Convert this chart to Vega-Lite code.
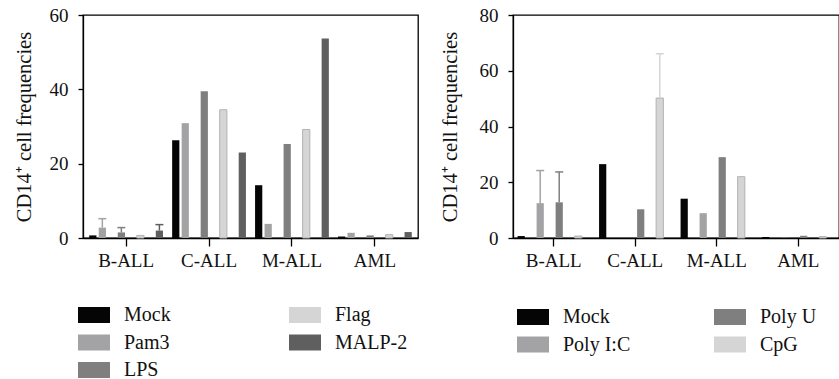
{
  "$schema": "https://vega.github.io/schema/vega-lite/v6.json",
  "padding": {"left": 13, "top": 5, "right": 0, "bottom": 0},
  "background": "white",
  "spacing": 20,
  "config": {
    "font": "Liberation Serif",
    "view": {"stroke": "#000", "strokeWidth": 1.3},
    "axis": {
      "labelFont": "Liberation Serif", "titleFont": "Liberation Serif",
      "labelFontSize": 19, "titleFontSize": 20.5, "titleFontWeight": "normal",
      "labelColor": "#111", "titleColor": "#111",
      "domainColor": "#000", "tickColor": "#000", "domainWidth": 1.3, "tickWidth": 1.3, "grid": false
    },
    "legend": {
      "labelFont": "Liberation Serif", "labelFontSize": 20, "labelColor": "#111",
      "symbolType": "M-2,-1H2V1H-2Z", "symbolSize": 256, "symbolStrokeWidth": 0,
      "symbolOpacity": 1, "labelOffset": 20, "rowPadding": 7.5
    }
  },
  "datasets": {
    "tlr1": [
      {"group": "B-ALL", "treat": "Mock", "value": 0.7},
      {"group": "B-ALL", "treat": "Pam3", "value": 2.8, "err": 5.2},
      {"group": "B-ALL", "treat": "LPS", "value": 1.5, "err": 2.8},
      {"group": "B-ALL", "treat": "Flag", "value": 0.7},
      {"group": "B-ALL", "treat": "MALP-2", "value": 2.0, "err": 3.6},
      {"group": "C-ALL", "treat": "Mock", "value": 26.3},
      {"group": "C-ALL", "treat": "Pam3", "value": 30.9},
      {"group": "C-ALL", "treat": "LPS", "value": 39.5},
      {"group": "C-ALL", "treat": "Flag", "value": 34.5},
      {"group": "C-ALL", "treat": "MALP-2", "value": 23.0},
      {"group": "M-ALL", "treat": "Mock", "value": 14.2},
      {"group": "M-ALL", "treat": "Pam3", "value": 3.8},
      {"group": "M-ALL", "treat": "LPS", "value": 25.3},
      {"group": "M-ALL", "treat": "Flag", "value": 29.2},
      {"group": "M-ALL", "treat": "MALP-2", "value": 53.7},
      {"group": "AML", "treat": "Mock", "value": 0.4},
      {"group": "AML", "treat": "Pam3", "value": 1.4},
      {"group": "AML", "treat": "LPS", "value": 0.7},
      {"group": "AML", "treat": "Flag", "value": 0.9},
      {"group": "AML", "treat": "MALP-2", "value": 1.6}
    ],
    "tlr2": [
      {"group": "B-ALL", "treat": "Mock", "value": 0.7},
      {"group": "B-ALL", "treat": "Poly I:C", "value": 12.5, "err": 24.2},
      {"group": "B-ALL", "treat": "Poly U", "value": 12.8, "err": 23.7},
      {"group": "B-ALL", "treat": "CpG", "value": 0.7},
      {"group": "C-ALL", "treat": "Mock", "value": 26.5},
      {"group": "C-ALL", "treat": "Poly I:C", "value": 0},
      {"group": "C-ALL", "treat": "Poly U", "value": 10.3},
      {"group": "C-ALL", "treat": "CpG", "value": 50.2, "err": 66.1},
      {"group": "M-ALL", "treat": "Mock", "value": 14.1},
      {"group": "M-ALL", "treat": "Poly I:C", "value": 8.9},
      {"group": "M-ALL", "treat": "Poly U", "value": 29.0},
      {"group": "M-ALL", "treat": "CpG", "value": 22.0},
      {"group": "AML", "treat": "Mock", "value": 0.4},
      {"group": "AML", "treat": "Poly I:C", "value": 0.1},
      {"group": "AML", "treat": "Poly U", "value": 0.8},
      {"group": "AML", "treat": "CpG", "value": 0.5}
    ]
  },
  "resolve": {"scale": {"color": "independent"}, "legend": {"color": "independent"}},
  "hconcat": [
    {
      "width": 335,
      "height": 223,
      "data": {"name": "tlr1"},
      "encoding": {
        "x": {"field": "group", "type": "nominal", "sort": ["B-ALL", "C-ALL", "M-ALL", "AML"],
              "scale": {"paddingInner": 0, "paddingOuter": 0.02},
              "axis": {"title": null, "labelAngle": 0, "tickSize": 8, "labelPadding": 5}},
        "xOffset": {"field": "treat", "type": "nominal", "sort": ["Mock", "Pam3", "LPS", "Flag", "MALP-2"],
                    "scale": {"paddingInner": 0.24, "paddingOuter": 0.48}},
        "color": {"field": "treat", "type": "nominal",
                  "scale": {"domain": ["Mock", "Pam3", "LPS", "Flag", "MALP-2"],
                            "range": ["#050505", "#a3a3a5", "#7f7f7f", "#d5d5d5", "#5f5f5f"]},
                  "legend": {"title": null, "orient": "none", "legendX": 1, "legendY": 290, "columns": 2, "columnPadding": 118}}
      },
      "layer": [
        {"mark": {"type": "bar", "strokeWidth": 1},
         "encoding": {"y": {"field": "value", "type": "quantitative",
                            "scale": {"domain": [0, 60], "nice": false},
                            "axis": {"values": [0, 20, 40, 60], "tickSize": 5, "labelPadding": 10, "titlePadding": 15,
                                     "title": "CD14⁺ cell frequencies"}},
                      "stroke": {"condition": {"test": "datum.treat === 'Flag'", "value": "#b2b2b2"}, "value": "transparent"}}},
        {"transform": [{"filter": "datum.err != null"}],
         "mark": {"type": "rule", "strokeWidth": 1.5},
         "encoding": {"y": {"field": "value", "type": "quantitative"}, "y2": {"field": "err"}}},
        {"transform": [{"filter": "datum.err != null"}],
         "mark": {"type": "tick", "thickness": 1.5, "size": 8, "opacity": 1},
         "encoding": {"y": {"field": "err", "type": "quantitative"}}}
      ]
    },
    {
      "width": 326,
      "height": 223,
      "data": {"name": "tlr2"},
      "encoding": {
        "x": {"field": "group", "type": "nominal", "sort": ["B-ALL", "C-ALL", "M-ALL", "AML"],
              "scale": {"paddingInner": 0, "paddingOuter": 0},
              "axis": {"title": null, "labelAngle": 0, "tickSize": 8, "labelPadding": 5}},
        "xOffset": {"field": "treat", "type": "nominal", "sort": ["Mock", "Poly I:C", "Poly U", "CpG"],
                    "scale": {"paddingInner": 0.28, "paddingOuter": 0.5}},
        "color": {"field": "treat", "type": "nominal",
                  "scale": {"domain": ["Mock", "Poly I:C", "Poly U", "CpG"],
                            "range": ["#050505", "#a3a3a5", "#7f7f7f", "#d5d5d5"]},
                  "legend": {"title": null, "orient": "none", "legendX": 10, "legendY": 292, "columns": 2, "columnPadding": 83}}
      },
      "layer": [
        {"mark": {"type": "bar", "strokeWidth": 1},
         "encoding": {"y": {"field": "value", "type": "quantitative",
                            "scale": {"domain": [0, 80], "nice": false},
                            "axis": {"values": [0, 20, 40, 60, 80], "tickSize": 5, "labelPadding": 10, "titlePadding": 19,
                                     "title": "CD14⁺ cell frequencies"}},
                      "stroke": {"condition": {"test": "datum.treat === 'CpG'", "value": "#b2b2b2"}, "value": "transparent"}}},
        {"transform": [{"filter": "datum.err != null"}],
         "mark": {"type": "rule", "strokeWidth": 1.5},
         "encoding": {"y": {"field": "value", "type": "quantitative"}, "y2": {"field": "err"}}},
        {"transform": [{"filter": "datum.err != null"}],
         "mark": {"type": "tick", "thickness": 1.5, "size": 8, "opacity": 1},
         "encoding": {"y": {"field": "err", "type": "quantitative"}}}
      ]
    }
  ]
}
